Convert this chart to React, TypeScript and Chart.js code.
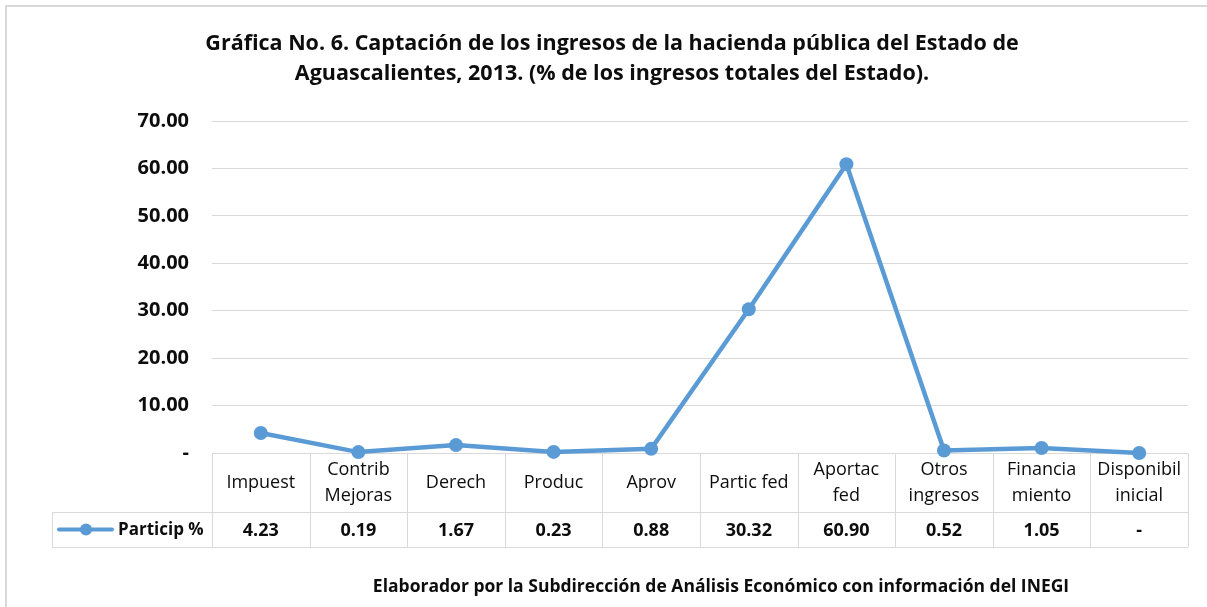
import React, { useEffect, useRef } from 'react';
import { Chart, registerables } from 'chart.js';

Chart.register(...registerables);

const categories: string[][] = [
  ['Impuest'],
  ['Contrib', 'Mejoras'],
  ['Derech'],
  ['Produc'],
  ['Aprov'],
  ['Partic fed'],
  ['Aportac', 'fed'],
  ['Otros', 'ingresos'],
  ['Financia', 'miento'],
  ['Disponibil', 'inicial'],
];
const participValues: number[] = [4.23, 0.19, 1.67, 0.23, 0.88, 30.32, 60.9, 0.52, 1.05, 0];
const participLabels: string[] = ['4.23', '0.19', '1.67', '0.23', '0.88', '30.32', '60.90', '0.52', '1.05', '-'];
const seriesName = 'Particip %';
const yMin = 0;
const yMax = 70;
const yStep = 10;
const titleLines: string[] = [
  'Gráfica No. 6. Captación de los ingresos de la hacienda pública del Estado de',
  'Aguascalientes, 2013. (% de los ingresos totales del Estado).',
];
const footerText = 'Elaborador por la Subdirección de Análisis Económico con información del INEGI';

const LINE_COLOR = '#5b9bd5';
const GRID_COLOR = '#d9d9d9';
const TEXT_COLOR = '#0d0d0d';
const FONT = '"Open Sans", "Noto Sans", sans-serif';

const decorPlugin = {
  id: 'decor',
  beforeDatasetsDraw(chart: any) {
    const ctx = chart.ctx as CanvasRenderingContext2D;
    const area = chart.chartArea;
    const xs = chart.scales.x;
    const n = categories.length;
    const colW = (area.right - area.left) / n;
    const top = area.bottom;
    const headerBottom = top + 59;
    const rowBottom = headerBottom + 35;
    const legendLeft = 52;

    ctx.save();
    ctx.strokeStyle = GRID_COLOR;
    ctx.lineWidth = 1;
    const hline = (x1: number, x2: number, y: number) => {
      ctx.beginPath();
      ctx.moveTo(x1, Math.round(y) + 0.5);
      ctx.lineTo(x2, Math.round(y) + 0.5);
      ctx.stroke();
    };
    const vline = (x: number, y1: number, y2: number) => {
      ctx.beginPath();
      ctx.moveTo(Math.round(x) + 0.5, y1);
      ctx.lineTo(Math.round(x) + 0.5, y2);
      ctx.stroke();
    };
    hline(area.left, area.right, top);
    hline(legendLeft, area.right, headerBottom);
    hline(legendLeft, area.right, rowBottom);
    vline(legendLeft, headerBottom, rowBottom);
    for (let i = 0; i < n; i++) {
      const c = xs.getPixelForValue(i);
      vline(c - colW / 2, top, rowBottom);
    }
    vline(area.right, top, rowBottom);

    // header text
    ctx.fillStyle = TEXT_COLOR;
    ctx.textAlign = 'center';
    ctx.textBaseline = 'middle';
    ctx.font = `18px ${FONT}`;
    const headerMid = (top + headerBottom) / 2;
    categories.forEach((lines, i) => {
      const c = xs.getPixelForValue(i);
      const lh = 26;
      const start = headerMid - ((lines.length - 1) * lh) / 2;
      lines.forEach((t, j) => ctx.fillText(t, c, start + j * lh));
    });

    // values
    ctx.font = `bold 18px ${FONT}`;
    const rowMid = (headerBottom + rowBottom) / 2;
    participLabels.forEach((t, i) => {
      ctx.fillText(t, xs.getPixelForValue(i), rowMid + 1);
    });

    // legend cell
    ctx.strokeStyle = LINE_COLOR;
    ctx.lineWidth = 4;
    ctx.lineCap = 'round';
    ctx.beginPath();
    ctx.moveTo(59, rowMid);
    ctx.lineTo(112, rowMid);
    ctx.stroke();
    ctx.fillStyle = LINE_COLOR;
    ctx.beginPath();
    ctx.arc(86, rowMid, 6, 0, Math.PI * 2);
    ctx.fill();
    ctx.fillStyle = TEXT_COLOR;
    ctx.textAlign = 'left';
    ctx.font = `bold 17px ${FONT}`;
    ctx.fillText(seriesName, 118, rowMid + 1);
    ctx.restore();
  },
  afterDraw(chart: any) {
    const ctx = chart.ctx as CanvasRenderingContext2D;
    ctx.save();
    // outer frame
    ctx.strokeStyle = GRID_COLOR;
    ctx.lineWidth = 2;
    ctx.strokeRect(6, 6, 1400, 800);
    // title
    ctx.fillStyle = TEXT_COLOR;
    ctx.textAlign = 'center';
    ctx.textBaseline = 'middle';
    ctx.font = `bold 21.5px ${FONT}`;
    ctx.fillText(titleLines[0], 612, 44);
    ctx.fillText(titleLines[1], 612, 74);
    // footer
    ctx.font = `bold 17.5px ${FONT}`;
    ctx.fillText(footerText, 721, 587);
    ctx.restore();
  },
};

export default function App() {
  const canvasRef = useRef<HTMLCanvasElement | null>(null);

  useEffect(() => {
    if (!canvasRef.current) return;
    const chart = new Chart(canvasRef.current, {
      type: 'line',
      data: {
        labels: categories.map((c) => c.join(' ')),
        datasets: [
          {
            label: seriesName,
            data: participValues,
            borderColor: LINE_COLOR,
            backgroundColor: LINE_COLOR,
            borderWidth: 4.5,
            pointRadius: 7,
            pointBorderWidth: 0,
            pointBackgroundColor: LINE_COLOR,
            tension: 0,
            clip: false,
          } as any,
        ],
      },
      options: {
        responsive: false,
        animation: false,
        events: [],
        layout: { padding: { left: 0, right: 19, top: 121, bottom: 154 } },
        plugins: {
          legend: { display: false },
          tooltip: { enabled: false },
          title: { display: false },
        },
        scales: {
          x: {
            type: 'category',
            display: false,
            offset: true,
          },
          y: {
            min: yMin,
            max: yMax,
            border: { display: false },
            grid: { color: GRID_COLOR, lineWidth: 1, drawTicks: false },
            ticks: {
              stepSize: yStep,
              padding: 23,
              color: TEXT_COLOR,
              font: { family: FONT, size: 20, weight: 'bold' },
              callback: (v: any) => (Number(v) === 0 ? '-' : Number(v).toFixed(2)),
            },
            afterFit: (scale: any) => {
              scale.width = 212;
            },
          },
        },
      },
      plugins: [decorPlugin],
    });
    return () => chart.destroy();
  }, []);

  return (
    <div style={{ position: 'absolute', left: 0, top: 0, width: 1207, height: 607, background: '#fff' }}>
      <canvas ref={canvasRef} width={1207} height={607} />
    </div>
  );
}
